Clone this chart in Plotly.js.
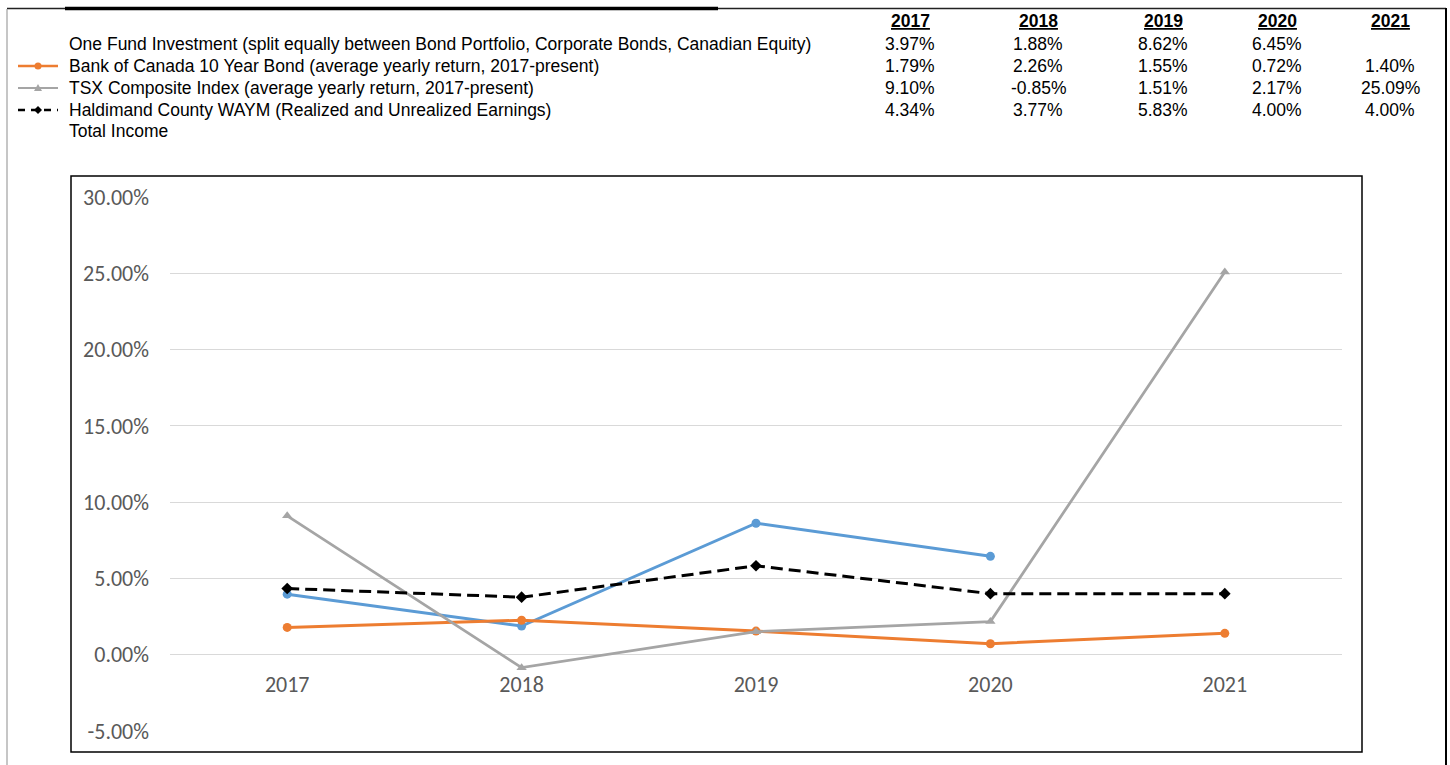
<!DOCTYPE html>
<html>
<head>
<meta charset="utf-8">
<script src="https://cdn.plot.ly/plotly-3.0.1.min.js"></script>
<style>html,body{margin:0;padding:0;background:#fff;}#chart{width:1450px;height:765px;}</style>
</head>
<body>
<div id="chart"></div>
<script>
// ---- data ----
var years = ['2017', '2018', '2019', '2020', '2021'];
var seriesNames = [
  'One Fund Investment (split equally between Bond Portfolio, Corporate Bonds, Canadian Equity)',
  'Bank of Canada 10 Year Bond (average yearly return, 2017-present)',
  'TSX Composite Index (average yearly return, 2017-present)',
  'Haldimand County WAYM (Realized and Unrealized Earnings)'
];
var extraRow = 'Total Income';
var oneFund = [3.97, 1.88, 8.62, 6.45, null];
var bankOfCanada = [1.79, 2.26, 1.55, 0.72, 1.40];
var tsx = [9.10, -0.85, 1.51, 2.17, 25.09];
var haldimand = [4.34, 3.77, 5.83, 4.00, 4.00];
var yTicks = [-5, 0, 5, 10, 15, 20, 25, 30];

// ---- layout helpers (pixel -> paper) ----
var W = 1450, H = 765;
var ML = 170, MR = 108, MT = 197, MB = 34;
var PW = W - ML - MR, PH = H - MT - MB;
function px(x) { return (x - ML) / PW; }
function py(y) { return (H - MB - y) / PH; }

var colors = ['#5B9BD5', '#ED7D31', '#A5A5A5', '#000000'];
var allSeries = [oneFund, bankOfCanada, tsx, haldimand];

var traces = [
  {x: years, y: oneFund, type: 'scatter', mode: 'lines+markers', name: seriesNames[0],
   line: {color: colors[0], width: 3}, marker: {symbol: 'circle', size: 9, color: colors[0]}},
  {x: years, y: bankOfCanada, type: 'scatter', mode: 'lines+markers', name: seriesNames[1],
   line: {color: colors[1], width: 3}, marker: {symbol: 'circle', size: 9, color: colors[1]}},
  {x: years, y: tsx, type: 'scatter', mode: 'lines+markers', name: seriesNames[2],
   line: {color: colors[2], width: 2.75}, marker: {symbol: 'triangle-up', size: 9, color: colors[2]}},
  {x: years, y: haldimand, type: 'scatter', mode: 'lines+markers', name: seriesNames[3],
   line: {color: colors[3], width: 3, dash: '12px,6px'}, marker: {symbol: 'diamond', size: 9, color: colors[3]}}
];

var tableFont = {family: 'Liberation Sans, Arial, sans-serif', size: 17.5, color: '#000'};
var rowY = [44, 66, 88, 110, 131];
var colX = [910, 1038, 1163, 1277, 1390];

var annotations = [];
// legend texts
seriesNames.concat([extraRow]).forEach(function (t, i) {
  annotations.push({xref: 'paper', yref: 'paper', x: px(67), y: py(rowY[i]), text: t,
    showarrow: false, xanchor: 'left', yanchor: 'middle', font: tableFont});
});
// headers
years.forEach(function (yr, j) {
  annotations.push({xref: 'paper', yref: 'paper', x: px(colX[j]), y: py(21), text: '<b><u>' + yr + '</u></b>',
    showarrow: false, xanchor: 'center', yanchor: 'middle', font: tableFont});
});
// values
allSeries.forEach(function (s, i) {
  s.forEach(function (v, j) {
    if (v === null) return;
    annotations.push({xref: 'paper', yref: 'paper', x: px(colX[j]), y: py(rowY[i]), text: v.toFixed(2) + '%',
      showarrow: false, xanchor: 'center', yanchor: 'middle', font: tableFont});
  });
});

var shapes = [];
function hline(x0, x1, y, color, width, dash) {
  shapes.push({type: 'line', xref: 'paper', yref: 'paper', x0: px(x0), x1: px(x1), y0: py(y), y1: py(y),
    line: {color: color, width: width, dash: dash || 'solid'}});
}
function vline(x, y0, y1, color, width) {
  shapes.push({type: 'line', xref: 'paper', yref: 'paper', x0: px(x), x1: px(x), y0: py(y0), y1: py(y1),
    line: {color: color, width: width}});
}
// page frame
hline(7, 65, 8.5, '#222', 1.5);
hline(65, 718, 8.5, '#000', 3.5);
hline(718, 1446, 8.5, '#222', 1.5);
vline(7, 9, 765, '#A0A0A0', 1.2);
vline(1446, 8, 765, '#000', 2);
// chart box
shapes.push({type: 'rect', xref: 'paper', yref: 'paper', x0: px(71), x1: px(1362), y0: py(752), y1: py(176),
  line: {color: '#000', width: 1.5}, fillcolor: 'rgba(0,0,0,0)', layer: 'below'});
// legend symbols
hline(18, 58, rowY[1], colors[1], 2.5);
shapes.push({type: 'circle', xref: 'paper', yref: 'paper', x0: px(34.5), x1: px(41.5), y0: py(rowY[1] + 3.5), y1: py(rowY[1] - 3.5),
  fillcolor: colors[1], line: {color: colors[1], width: 0}});
hline(18, 58, rowY[2], colors[2], 2);
shapes.push({type: 'path', xref: 'paper', yref: 'paper',
  path: 'M' + px(34) + ',' + py(rowY[2] + 3) + ' L' + px(42) + ',' + py(rowY[2] + 3) + ' L' + px(38) + ',' + py(rowY[2] - 4) + ' Z',
  fillcolor: colors[2], line: {color: colors[2], width: 0}});
hline(18, 58, rowY[3], '#000', 2.5, '7px,6px');
shapes.push({type: 'path', xref: 'paper', yref: 'paper',
  path: 'M' + px(34) + ',' + py(rowY[3]) + ' L' + px(38) + ',' + py(rowY[3] - 4) + ' L' + px(42) + ',' + py(rowY[3]) + ' L' + px(38) + ',' + py(rowY[3] + 4) + ' Z',
  fillcolor: '#000', line: {color: '#000', width: 0}});

var axisFont = {family: 'Carlito, Lato, sans-serif', size: 22, color: '#595959'};

var layout = {
  width: W, height: H,
  margin: {l: ML, r: MR, t: MT, b: MB, pad: 0},
  paper_bgcolor: '#fff', plot_bgcolor: '#fff',
  showlegend: false,
  xaxis: {type: 'category', range: [-0.5, 4.5], anchor: 'free', position: 5 / 35, showgrid: false, zeroline: false,
    showline: false, ticks: '', tickfont: axisFont, ticklabelstandoff: 14, fixedrange: true},
  yaxis: {range: [-5, 30], tickvals: yTicks, ticktext: yTicks.map(function (v) { return v.toFixed(2) + '%'; }),
    showgrid: true, gridcolor: '#D9D9D9', gridwidth: 1, zeroline: false, showline: false, ticks: '',
    tickfont: axisFont, ticklabelstandoff: 20, fixedrange: true},
  annotations: annotations,
  shapes: shapes
};

Plotly.newPlot('chart', traces, layout, {displayModeBar: false, staticPlot: true});
</script>
</body>
</html>
